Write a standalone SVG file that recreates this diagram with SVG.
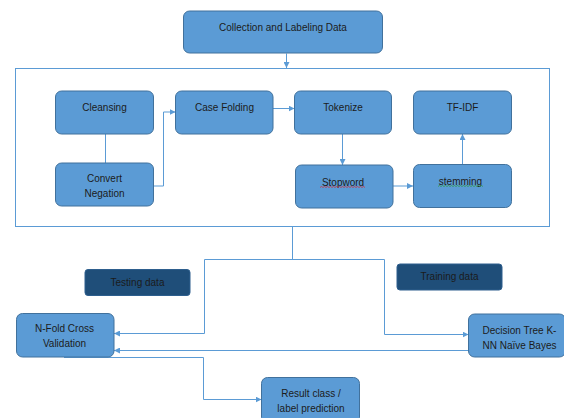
<svg xmlns="http://www.w3.org/2000/svg" width="564" height="418" viewBox="0 0 564 418">
  <style>
    .box { fill: #5B9BD5; stroke: #41719C; stroke-width: 1; }
    .dark { fill: #1F4E79; stroke: #2E5F8E; stroke-width: 1; }
    .frame { fill: none; stroke: #5B9BD5; stroke-width: 1; }
    .label { font-family: "Liberation Sans", Arial, sans-serif; font-size: 10px; fill: #1b1b1b; text-anchor: middle; }
    .edge { fill: none; stroke: #5B9BD5; stroke-width: 1; }
  </style>
  <defs>
    <marker id="arrow" viewBox="0 0 10 10" refX="10" refY="5" markerWidth="6" markerHeight="6" markerUnits="userSpaceOnUse" orient="auto">
      <path d="M0,0 L10,5 L0,10 z" fill="#5B9BD5"/>
    </marker>
  </defs>

  <rect width="564" height="418" fill="#ffffff"/>

  <!-- preprocessing frame -->
  <rect class="frame" x="15.5" y="68.5" width="534" height="158"/>

  <!-- connectors -->
  <g id="connectors">
    <path class="edge" d="M286.5,53.5 V68" marker-end="url(#arrow)"/>
    <path class="edge" d="M105.5,134 V163"/>
    <path class="edge" d="M153.5,186 H163.5 V112 H175.5" marker-end="url(#arrow)"/>
    <path class="edge" d="M273,108.5 H294.5" marker-end="url(#arrow)"/>
    <path class="edge" d="M342.5,134 V165" marker-end="url(#arrow)"/>
    <path class="edge" d="M393,186 H413" marker-end="url(#arrow)"/>
    <path class="edge" d="M462.5,164.5 V134" marker-end="url(#arrow)"/>
    <path class="edge" d="M292.5,227 V259.5 M204.5,259.5 H384.5"/>
    <path class="edge" d="M204.5,259.5 V333.5 H114" marker-end="url(#arrow)"/>
    <path class="edge" d="M384.5,259.5 V334.5 H468.5" marker-end="url(#arrow)"/>
    <path class="edge" d="M468.5,350.5 H114" marker-end="url(#arrow)"/>
    <path class="edge" d="M64,357.5 H203.5 V399.5 H261.5" marker-end="url(#arrow)"/>
  </g>

  <g id="collection">
    <rect class="box" x="183.5" y="11" width="199" height="42" rx="6"/>
    <text class="label" x="283" y="30.5">Collection and Labeling Data</text>
  </g>

  <g id="cleansing">
    <rect class="box" x="55.5" y="91" width="98" height="43" rx="6"/>
    <text class="label" x="104.5" y="111">Cleansing</text>
  </g>

  <g id="case-folding">
    <rect class="box" x="175.5" y="91" width="97.5" height="43" rx="6"/>
    <text class="label" x="224.5" y="111">Case Folding</text>
  </g>

  <g id="tokenize">
    <rect class="box" x="294.5" y="91" width="97" height="43" rx="6"/>
    <text class="label" x="343" y="111">Tokenize</text>
  </g>

  <g id="tf-idf">
    <rect class="box" x="413.5" y="91" width="98" height="43" rx="6"/>
    <text class="label" x="462.5" y="111">TF-IDF</text>
  </g>

  <g id="convert-negation">
    <rect class="box" x="55.5" y="163" width="98" height="43" rx="6"/>
    <text class="label" x="104.5" y="181.5">Convert</text>
    <text class="label" x="104.5" y="196.5">Negation</text>
  </g>

  <g id="stopword">
    <rect class="box" x="295.5" y="165" width="97.5" height="43" rx="6"/>
    <text class="label" x="343" y="185.5">Stopword</text>
    <path d="M320,187.5 l1.5,-1 l1.5,1 l1.5,-1 l1.5,1 l1.5,-1 l1.5,1 l1.5,-1 l1.5,1 l1.5,-1 l1.5,1 l1.5,-1 l1.5,1 l1.5,-1 l1.5,1 l1.5,-1 l1.5,1 l1.5,-1 l1.5,1 l1.5,-1 l1.5,1 l1.5,-1 l1.5,1 l1.5,-1 l1.5,1 l1.5,-1 l1.5,1 l1.5,-1 l1.5,1 l1.5,-1 l1.5,1" fill="none" stroke="#D9262B" stroke-width="0.7"/>
  </g>

  <g id="stemming">
    <rect class="box" x="413.5" y="164.5" width="98" height="43" rx="6"/>
    <text class="label" x="460.5" y="184.5">stemming</text>
    <path d="M438,186.5 l1.5,-1 l1.5,1 l1.5,-1 l1.5,1 l1.5,-1 l1.5,1 l1.5,-1 l1.5,1 l1.5,-1 l1.5,1 l1.5,-1 l1.5,1 l1.5,-1 l1.5,1 l1.5,-1 l1.5,1 l1.5,-1 l1.5,1 l1.5,-1 l1.5,1 l1.5,-1 l1.5,1 l1.5,-1 l1.5,1 l1.5,-1 l1.5,1 l1.5,-1 l1.5,1 l1.5,-1 l1.5,1" fill="none" stroke="#2E9A3A" stroke-width="0.7"/>
  </g>

  <g id="testing-data">
    <rect class="dark" x="85" y="269.5" width="105" height="26" rx="3"/>
    <text class="label" x="137.5" y="285.5">Testing data</text>
  </g>

  <g id="training-data">
    <rect class="dark" x="397" y="264" width="105" height="26" rx="3"/>
    <text class="label" x="449.5" y="280">Training data</text>
  </g>

  <g id="n-fold">
    <rect class="box" x="16.5" y="313.5" width="97.5" height="43.5" rx="6"/>
    <text class="label" x="64.5" y="332">N-Fold Cross</text>
    <text class="label" x="64.5" y="347">Validation</text>
  </g>

  <g id="classifiers">
    <rect class="box" x="468.5" y="314" width="97" height="43" rx="6"/>
    <text class="label" x="519.5" y="333.5">Decision Tree K-</text>
    <text class="label" x="519.5" y="348.5">NN Naïve Bayes</text>
  </g>

  <g id="result">
    <rect class="box" x="261.5" y="377.5" width="98" height="46" rx="6"/>
    <text class="label" x="311" y="397">Result class /</text>
    <text class="label" x="311" y="411.5">label prediction</text>
  </g>
</svg>
